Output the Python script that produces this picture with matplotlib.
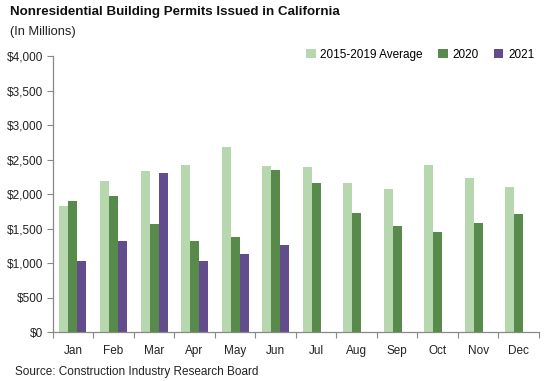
import matplotlib
matplotlib.use("Agg")
import matplotlib.pyplot as plt
import numpy as np
from matplotlib.ticker import FuncFormatter, FixedLocator

months = ["Jan", "Feb", "Mar", "Apr", "May", "Jun", "Jul", "Aug", "Sep", "Oct", "Nov", "Dec"]
avg_2015_2019 = [1830, 2195, 2340, 2425, 2690, 2410, 2400, 2165, 2080, 2425, 2240, 2105]
y2020 = [1905, 1975, 1570, 1325, 1385, 2355, 2165, 1730, 1545, 1455, 1585, 1715]
y2021 = [1035, 1325, 2310, 1035, 1135, 1265]
series_names = ["2015-2019 Average", "2020", "2021"]
yticks = [0, 500, 1000, 1500, 2000, 2500, 3000, 3500, 4000]

c_avg = "#B7D7AE"
c_2020 = "#588B4B"
c_2021 = "#624C8C"

plt.rcParams['font.family'] = ['Liberation Sans', 'DejaVu Sans']

fig = plt.figure(figsize=(5.46, 3.81), dpi=100)
ax = fig.add_axes([52.7/546, 1-332.3/381, (539-52.7)/546, (332.3-56.3)/381])

x = np.arange(len(months))
w = 0.222
ax.bar(x - w, avg_2015_2019, w, color=c_avg, label=series_names[0])
ax.bar(x, y2020, w, color=c_2020, label=series_names[1])
ax.bar(np.arange(len(y2021)) + w, y2021, w, color=c_2021, label=series_names[2])

ax.set_xlim(-0.5, 11.5)
ax.set_ylim(0, 4000)
ax.set_yticks(yticks)
ax.yaxis.set_major_formatter(FuncFormatter(lambda v, p: "${:,.0f}".format(v)))
ax.set_xticks(x)
ax.set_xticklabels(months)
ax.xaxis.set_minor_locator(FixedLocator(np.arange(-0.5, 12, 1)))
ax.tick_params(axis='x', which='major', length=0, pad=9, labelsize=8.5, colors='#222222')
ax.tick_params(axis='x', which='minor', length=4, color='#888888', width=0.8)
ax.tick_params(axis='y', length=4, color='#888888', width=0.8, labelsize=8.5, colors='#222222', pad=3)
ax.tick_params(axis='y', colors='#888888', labelcolor='#222222')
for s in ['top', 'right']:
    ax.spines[s].set_visible(False)
for s in ['left', 'bottom']:
    ax.spines[s].set_color('#888888')
    ax.spines[s].set_linewidth(0.9)

leg = ax.legend(loc='upper right', bbox_to_anchor=(1.0, 1.045), ncol=3, frameon=False,
                fontsize=8.5, handlelength=0.8, handleheight=0.8, handletextpad=0.4,
                columnspacing=1.3, borderaxespad=0)

fig.text(10/546, 1-12/381, "Nonresidential Building Permits Issued in California",
         fontsize=9.6, fontweight='bold', va='center', ha='left', color='#111111')
fig.text(10/546, 1-32/381, "(In Millions)", fontsize=9.3, va='center', ha='left', color='#222222')
fig.text(15/546, 1-371.5/381, "Source: Construction Industry Research Board", fontsize=8.5,
         va='center', ha='left', color='#222222')

fig.savefig("out.png", dpi=100)
